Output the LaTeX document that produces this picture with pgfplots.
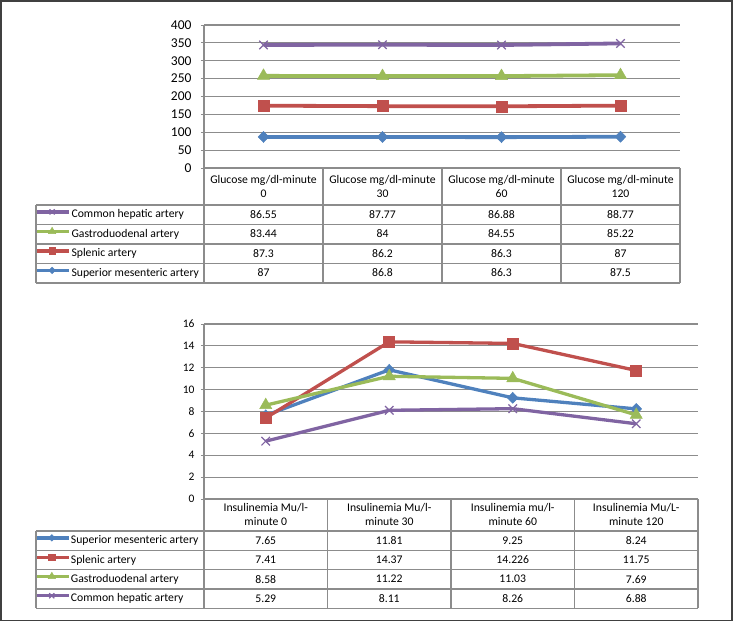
\documentclass[border=0pt]{standalone}
\usepackage{fontspec}
\setmainfont{Carlito}
\usepackage{pgfplots}
\pgfplotsset{compat=1.18}

\definecolor{smaBlue}{HTML}{4F81BD}
\definecolor{splRed}{HTML}{C0504D}
\definecolor{gdGreen}{HTML}{9BBB59}
\definecolor{chaPurple}{HTML}{8064A2}
\definecolor{gridgray}{HTML}{8C8C8C}

\newcommand{\tabfont}{\fontsize{11.7}{14}\selectfont}

\pgfplotsset{
  excel/.style={
    scale only axis,
    xmin=0, xmax=4,
    xtick=\empty,
    axis x line=none,
    axis y line*=left,
    ymajorgrids,
    grid style={draw=gridgray, line width=1.2pt},
    y axis line style={draw=gridgray, line width=1.2pt},
    tick style={draw=gridgray, line width=1pt},
    tick align=outside,
    major tick length=3pt,
    clip=false,
    /pgf/number format/assume math mode=true,
    legend cell align=left,
    legend image code/.code={
      \draw[mark repeat=2, mark phase=2, #1, every mark/.append style={scale=0.6}]
        plot coordinates {(0pt,3pt) (17pt,3pt) (34pt,3pt)};
    },
  },
  sma/.style={smaBlue, line width=#1, mark=diamond*, mark size=5.5pt,
    mark options={solid, fill=smaBlue, draw=smaBlue, line width=0.5pt, xscale=1.3}},
  spl/.style={splRed, line width=#1, mark=square*, mark size=5.5pt,
    mark options={solid, fill=splRed, draw=splRed, line width=0.5pt}},
  gd/.style={gdGreen, line width=#1, mark=triangle*, mark size=7pt,
    mark options={solid, fill=gdGreen, draw=gdGreen, line width=0.5pt}},
  cha/.style={chaPurple, line width=#1, mark=x, mark size=6pt,
    mark options={solid, draw=chaPurple, line width=1.2pt}},
}

\begin{document}
\begin{tikzpicture}
\useasboundingbox (0pt,0pt) rectangle (734pt,-622pt);

% ---------------- top chart: glucose (stacked lines)
\begin{axis}[excel,
  at={(204pt,-168pt)}, anchor=south west,
  width=476pt, height=143pt,
  ymin=0, ymax=400, ytick distance=50,
  stack plots=y,
  y tick label style={font=\fontsize{13.5}{15}\selectfont, xshift=-6pt},
  reverse legend,
  legend style={at={(-0.3592,-0.2587)}, anchor=north west, draw=none, fill=none,
    inner sep=0pt, row sep=0pt, column sep=0pt, font=\tabfont,
    nodes={inner xsep=0.5pt, inner ysep=0pt, minimum height=19.5pt,
      text height=8pt, text depth=2pt}},
]
\addplot[sma=3.8pt] coordinates {(0.5,87) (1.5,86.8) (2.5,86.3) (3.5,87.5)};
\addlegendentry{Superior mesenteric artery}
\addplot[spl=3.8pt] coordinates {(0.5,87.3) (1.5,86.2) (2.5,86.3) (3.5,87)};
\addlegendentry{Splenic artery}
\addplot[gd=3.8pt] coordinates {(0.5,83.44) (1.5,84) (2.5,84.55) (3.5,85.22)};
\addlegendentry{Gastroduodenal artery}
\addplot[cha=3.8pt] coordinates {(0.5,86.55) (1.5,87.77) (2.5,86.88) (3.5,88.77)};
\addlegendentry{Common hepatic artery}
\end{axis}

% ---------------- bottom chart: insulinemia
\begin{axis}[excel,
  at={(204pt,-499pt)}, anchor=south west,
  width=494pt, height=175pt,
  ymin=0, ymax=16, ytick distance=2,
  y tick label style={font=\fontsize{11.5}{13}\selectfont, xshift=-3pt},
  legend style={at={(-0.3462,-0.18286)}, anchor=north west, draw=none, fill=none,
    inner sep=0pt, row sep=0pt, column sep=0pt, font=\tabfont,
    nodes={inner xsep=0.5pt, inner ysep=0pt, minimum height=19.3pt,
      text height=8pt, text depth=2pt}},
]
\addplot[sma=3.3pt] coordinates {(0.5,7.65) (1.5,11.81) (2.5,9.25) (3.5,8.24)};
\addlegendentry{Superior mesenteric artery}
\addplot[spl=3.3pt] coordinates {(0.5,7.41) (1.5,14.37) (2.5,14.226) (3.5,11.75)};
\addlegendentry{Splenic artery}
\addplot[gd=3.3pt] coordinates {(0.5,8.58) (1.5,11.22) (2.5,11.03) (3.5,7.69)};
\addlegendentry{Gastroduodenal artery}
\addplot[cha=3.3pt] coordinates {(0.5,5.29) (1.5,8.11) (2.5,8.26) (3.5,6.88)};
\addlegendentry{Common hepatic artery}
\end{axis}

% ---------------- data tables
\begin{scope}[x=1pt, y=-1pt, every node/.style={font=\tabfont, inner sep=0pt}]
  \begin{scope}[draw=gridgray, line width=1.2pt]
    % top table
    \draw (204,168) -- (680,168);
    \foreach \y in {205,224.5,244,263.5,283} \draw (36,\y) -- (680,\y);
    \draw (36,205) -- (36,283);
    \foreach \x in {204,323,442,561,680} \draw (\x,168) -- (\x,283);
    % bottom table
    \draw (204,499) -- (698,499);
    \foreach \y in {531,550.3,569.6,588.9,608.2} \draw (36,\y) -- (698,\y);
    \draw (36,531) -- (36,608.2);
    \foreach \x in {204,327.5,451,574.5,698} \draw (\x,499) -- (\x,608.2);
  \end{scope}

  % top header and values
  \foreach \x/\m in {263.5/0, 382.5/30, 501.5/60, 620.5/120} {
    \node at (\x,180) {Glucose mg/dl-minute};
    \node at (\x,194) {\m};
  }
  \foreach \x/\a/\b/\c/\d in {263.5/86.55/83.44/87.3/87,
                              382.5/87.77/84/86.2/86.8,
                              501.5/86.88/84.55/86.3/86.3,
                              620.5/88.77/85.22/87/87.5} {
    \node at (\x,214.5) {\a};
    \node at (\x,234) {\b};
    \node at (\x,253.5) {\c};
    \node at (\x,273) {\d};
  }

  % bottom header and values
  \foreach \x/\u/\m in {265.75/Mu\slash l/0, 389.25/Mu\slash l/30,
                        512.75/mu\slash l/60, 636.25/Mu\slash L/120} {
    \node at (\x,508) {Insulinemia \u-};
    \node at (\x,522) {minute \m};
  }
  \foreach \x/\a/\b/\c/\d in {265.75/7.65/7.41/8.58/5.29,
                              389.25/11.81/14.37/11.22/8.11,
                              512.75/9.25/14.226/11.03/8.26,
                              636.25/8.24/11.75/7.69/6.88} {
    \node at (\x,540.6) {\a};
    \node at (\x,560) {\b};
    \node at (\x,579.2) {\c};
    \node at (\x,598.5) {\d};
  }

  % outer frame
  \draw[line width=1.6pt, draw=black!75] (1,1) rectangle (732,620.5);
\end{scope}
\end{tikzpicture}
\end{document}
